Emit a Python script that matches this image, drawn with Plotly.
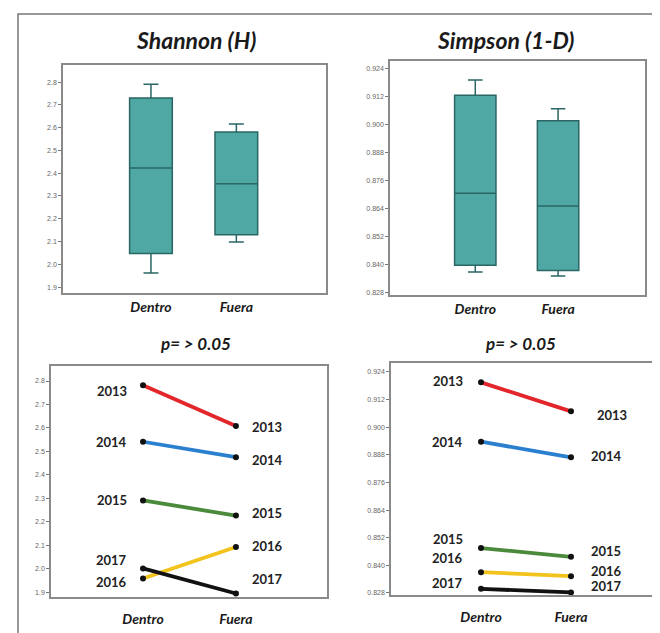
import plotly.graph_objects as go

groups = ["Dentro", "Fuera"]
years = ["2013", "2014", "2015", "2016", "2017"]

# Box statistics
shannon_low = [1.962, 2.098]
shannon_q1 = [2.047, 2.130]
shannon_med = [2.423, 2.354]
shannon_q3 = [2.730, 2.581]
shannon_high = [2.791, 2.616]

simpson_low = [0.8370, 0.8352]
simpson_q1 = [0.8399, 0.8376]
simpson_med = [0.8707, 0.8653]
simpson_q3 = [0.9127, 0.9018]
simpson_high = [0.9193, 0.9069]

# Yearly values (Dentro, Fuera)
shannon_dentro = [2.782, 2.541, 2.291, 1.958, 2.001]
shannon_fuera = [2.608, 2.475, 2.226, 2.092, 1.894]
simpson_dentro = [0.9195, 0.8937, 0.8475, 0.8370, 0.8298]
simpson_fuera = [0.9069, 0.8869, 0.8437, 0.8353, 0.8282]

line_colors = ["#e3262b", "#2a7fcf", "#4a8a3a", "#f2c31c", "#111111"]

# label offsets (px, positive = downwards) for year labels in the bottom panels
sh_left_dy = [6, 0, 0, 4, -8]
sh_right_dy = [1, 3, -3, -1, -14]
si_left_dy = [-1, 0, -9, -14, -6]
si_right_dy = [4, -1, -6, -5, -6]

bold_italic = dict(family="Lato", weight="bold", style="italic", color="#1a1a1a")

fig = go.Figure()

box_fill = "#4fa8a4"
box_line = "#2a6664"

fig.add_trace(go.Box(
    x=groups, q1=shannon_q1, median=shannon_med, q3=shannon_q3,
    lowerfence=shannon_low, upperfence=shannon_high,
    fillcolor=box_fill, line=dict(color=box_line, width=1.5),
    whiskerwidth=0.35, width=0.5, boxpoints=False, showlegend=False,
    xaxis="x", yaxis="y"))
fig.add_trace(go.Box(
    x=groups, q1=simpson_q1, median=simpson_med, q3=simpson_q3,
    lowerfence=simpson_low, upperfence=simpson_high,
    fillcolor=box_fill, line=dict(color=box_line, width=1.5),
    whiskerwidth=0.35, width=0.5, boxpoints=False, showlegend=False,
    xaxis="x2", yaxis="y2"))

annotations = []
lab_font = dict(family="Lato", weight="bold", size=13, color="#222222")
for i, yr in enumerate(years):
    fig.add_trace(go.Scatter(
        x=groups, y=[shannon_dentro[i], shannon_fuera[i]], mode="lines+markers",
        line=dict(color=line_colors[i], width=3.8),
        marker=dict(color="#111111", size=6), showlegend=False,
        xaxis="x3", yaxis="y3"))
    fig.add_trace(go.Scatter(
        x=groups, y=[simpson_dentro[i], simpson_fuera[i]], mode="lines+markers",
        line=dict(color=line_colors[i], width=3.8),
        marker=dict(color="#111111", size=6), showlegend=False,
        xaxis="x4", yaxis="y4"))
    annotations += [
        dict(x="Dentro", y=shannon_dentro[i], xref="x3", yref="y3", text=yr,
             showarrow=False, xanchor="right", yanchor="middle", xshift=-14,
             yshift=-sh_left_dy[i], font=lab_font),
        dict(x="Fuera", y=shannon_fuera[i], xref="x3", yref="y3", text=yr,
             showarrow=False, xanchor="left", yanchor="middle", xshift=14,
             yshift=-sh_right_dy[i], font=lab_font),
        dict(x="Dentro", y=simpson_dentro[i], xref="x4", yref="y4", text=yr,
             showarrow=False, xanchor="right", yanchor="middle", xshift=-16,
             yshift=-si_left_dy[i], font=lab_font),
        dict(x="Fuera", y=simpson_fuera[i], xref="x4", yref="y4", text=yr,
             showarrow=False, xanchor="left", yanchor="middle",
             xshift=18 if i != 0 else 24, yshift=-si_right_dy[i], font=lab_font),
    ]

title_font = dict(bold_italic, size=23)
p_font = dict(bold_italic, size=17)
for tx, xc, yc, f in [("Shannon (H)", 188, 32, title_font),
                      ("Simpson (1-D)", 497, 32, title_font),
                      ("p= > 0.05", 187, 335, p_font),
                      ("p= > 0.05", 512, 335, p_font)]:
    annotations.append(dict(x=xc/660, y=1-yc/633, xref="paper", yref="paper",
                            text=tx, showarrow=False, xanchor="center",
                            yanchor="middle", font=f))

xcommon = dict(type="category", categoryorder="array", categoryarray=groups,
               showgrid=False, zeroline=False, ticks="", ticklen=0, showline=True,
               linecolor="#8a8a8a", linewidth=1.5, mirror=True,
               tickfont=dict(bold_italic, size=14))
ycommon = dict(showgrid=False, zeroline=False, ticks="outside", ticklen=3,
               tickcolor="#777777", showline=True, linecolor="#8a8a8a",
               linewidth=1.5, mirror=True,
               tickfont=dict(family="Liberation Sans", size=7, color="#666666"))

fig.update_layout(
    width=660, height=633,
    margin=dict(l=0, r=0, t=0, b=0),
    paper_bgcolor="white", plot_bgcolor="white",
    xaxis=dict(xcommon, domain=[55/660, 318/660], range=[-1.03, 2.05],
               anchor="y", ticklabelstandoff=0),
    yaxis=dict(ycommon, domain=[1-285/633, 1-57/633], range=[1.874, 2.875],
               tickvals=[1.9, 2.0, 2.1, 2.2, 2.3, 2.4, 2.5, 2.6, 2.7, 2.8],
               tickformat=".1f", anchor="x"),
    xaxis2=dict(xcommon, domain=[382/660, 637/660], range=[-1.03, 2.05],
                anchor="y2", ticklabelstandoff=0),
    yaxis2=dict(ycommon, domain=[1-287/633, 1-53/633], range=[0.8271, 0.9274],
                tickvals=[0.828, 0.840, 0.852, 0.864, 0.876, 0.888, 0.900, 0.912, 0.924],
                tickformat=".3f", anchor="x2"),
    xaxis3=dict(xcommon, domain=[43/660, 319/660], range=[-0.99, 1.98],
                anchor="y3", ticklabelstandoff=8),
    yaxis3=dict(ycommon, domain=[1-589/633, 1-358/633], range=[1.879, 2.864],
                tickvals=[1.9, 2.0, 2.1, 2.2, 2.3, 2.4, 2.5, 2.6, 2.7, 2.8],
                tickformat=".1f", anchor="x3"),
    xaxis4=dict(xcommon, domain=[383/660, 653/660], range=[-1.0, 2.0],
                anchor="y4", ticklabelstandoff=8),
    yaxis4=dict(ycommon, domain=[1-587/633, 1-355/633], range=[0.8271, 0.9279],
                tickvals=[0.828, 0.840, 0.852, 0.864, 0.876, 0.888, 0.900, 0.912, 0.924],
                tickformat=".3f", anchor="x4"),
    annotations=annotations,
    shapes=[
        dict(type="rect", xref="paper", yref="paper",
             x0=10/660, x1=1.02, y0=1-632/633, y1=1-6/633,
             line=dict(color="#777777", width=1.5)),
    ],
)

fig.write_html("out.html")
